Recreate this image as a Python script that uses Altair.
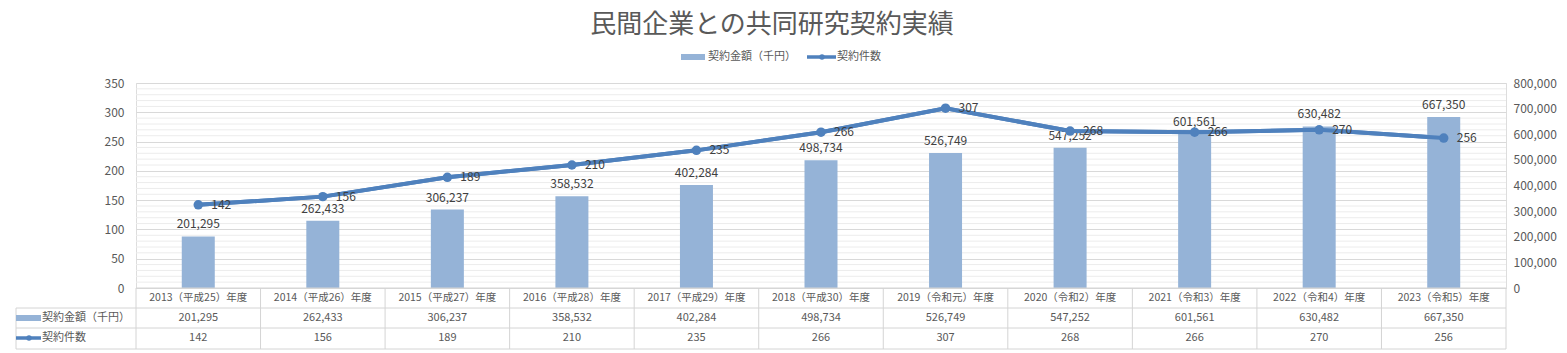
import altair as alt
import pandas as pd

# ---------------- data ----------------
years = ["2013（平成25）年度", "2014（平成26）年度", "2015（平成27）年度", "2016（平成28）年度",
         "2017（平成29）年度", "2018（平成30）年度", "2019（令和元）年度", "2020（令和2）年度",
         "2021（令和3）年度", "2022（令和4）年度", "2023（令和5）年度"]
amounts = [201295, 262433, 306237, 358532, 402284, 498734, 526749, 547252, 601561, 630482, 667350]
counts = [142, 156, 189, 210, 235, 266, 307, 268, 266, 270, 256]
left_ticks = [0, 50, 100, 150, 200, 250, 300, 350]
right_ticks = [0, 100000, 200000, 300000, 400000, 500000, 600000, 700000, 800000]
minor_grid = [v for v in range(10, 350, 10) if v % 50]

title_text = "民間企業との共同研究契約実績"
amount_name = "契約金額（千円）"
count_name = "契約件数"

df = pd.DataFrame({"year": years, "amount": amounts, "count": counts})

# ---------------- styles ----------------
FONT = "Noto Sans CJK JP"
W, H = 1370, 205
BAR = "#95B3D7"
LINE = "#4F81BD"
TXT = "#595959"
LBL = "#404040"
GRIDMAJ = "#d9d9d9"
GRIDMIN = "#ececec"
TABLE = "#d4d4d4"
FS = 11

left_scale = alt.Scale(domain=[0, 350], nice=False, zero=True)
right_scale = alt.Scale(domain=[0, 800000], nice=False, zero=True)
xs = alt.Scale(paddingInner=0, paddingOuter=0)
X = alt.X("year:N", sort=years, axis=None, scale=xs)

base = alt.Chart(df)
one = alt.Data(values=[{"k": 0}])

# minor gridlines
grid_minor = alt.Chart(pd.DataFrame({"v": minor_grid})).mark_rule(color=GRIDMIN, strokeWidth=1).encode(
    y=alt.Y("v:Q", scale=left_scale, axis=None), x=alt.value(0), x2=alt.value(W))

# left axis with major grid (count scale)
left_axis = base.mark_line(color=LINE, strokeWidth=4).encode(
    x=X,
    y=alt.Y("count:Q", scale=left_scale,
            axis=alt.Axis(orient="left", values=left_ticks, grid=True, gridColor=GRIDMAJ, domain=False,
                          ticks=False, labelPadding=12, labelFontSize=12, labelColor=TXT,
                          labelFont=FONT, title=None)))

# bars (right axis)
bars = base.mark_bar(size=33, color=BAR).encode(
    x=X,
    y=alt.Y("amount:Q", scale=right_scale,
            axis=alt.Axis(orient="right", values=right_ticks, grid=False, domain=False,
                          labelExpr="format(datum.value, ',')",
                          ticks=False, labelPadding=7, labelFontSize=12, labelColor=TXT,
                          labelFont=FONT, title=None)))
bar_labels = base.mark_text(baseline="bottom", dy=-5, fontSize=12, color=LBL, font=FONT).encode(
    x=X, y=alt.Y("amount:Q", scale=right_scale, axis=None), text=alt.Text("amount:Q", format=","))

# line (left axis)
line = base.mark_line(color=LINE, strokeWidth=4).encode(
    x=X, y=alt.Y("count:Q", scale=left_scale, axis=None))
points = base.mark_circle(size=90, color=LINE, opacity=1).encode(
    x=X, y=alt.Y("count:Q", scale=left_scale, axis=None))
count_labels = base.mark_text(align="left", dx=13, baseline="middle", fontSize=12, color=LBL, font=FONT).encode(
    x=X, y=alt.Y("count:Q", scale=left_scale, axis=None), text="count:Q")

# ---------------- data table ----------------
def hrule(y, x0, x1):
    return alt.Chart(one).mark_rule(color=TABLE, strokeWidth=1).encode(
        x=alt.value(x0), x2=alt.value(x1), y=alt.value(y))

def vrule_val(x, y0, y1):
    return alt.Chart(one).mark_rule(color=TABLE, strokeWidth=1).encode(
        x=alt.value(x), y=alt.value(y0), y2=alt.value(y1))

vlines = base.mark_rule(color=TABLE, strokeWidth=1).encode(
    x=alt.X("year:N", sort=years, axis=None, scale=xs, bandPosition=0),
    y=alt.value(205), y2=alt.value(266))

cat_text = base.mark_text(fontSize=10.5, color=TXT, font=FONT, baseline="middle").encode(
    x=X, y=alt.value(215), text="year:N")
amt_text = base.mark_text(fontSize=FS, color=TXT, font=FONT, baseline="middle").encode(
    x=X, y=alt.value(235), text=alt.Text("amount:Q", format=","))
cnt_text = base.mark_text(fontSize=FS, color=TXT, font=FONT, baseline="middle").encode(
    x=X, y=alt.value(255), text="count:Q")

row_key_bar = alt.Chart(one).mark_rect(color=BAR).encode(
    x=alt.value(-120), x2=alt.value(-95), y=alt.value(232), y2=alt.value(238))
row_key_line = alt.Chart(one).mark_rule(color=LINE, strokeWidth=3.5).encode(
    x=alt.value(-120), x2=alt.value(-95), y=alt.value(255))
row_key_dot = alt.Chart(one).mark_circle(color=LINE, size=30, opacity=1).encode(
    x=alt.value(-107), y=alt.value(255))
row_lbl1 = alt.Chart(one).mark_text(align="left", baseline="middle", fontSize=FS, color=TXT, font=FONT).encode(
    x=alt.value(-94), y=alt.value(235), text=alt.value(amount_name))
row_lbl2 = alt.Chart(one).mark_text(align="left", baseline="middle", fontSize=FS, color=TXT, font=FONT).encode(
    x=alt.value(-94), y=alt.value(255), text=alt.value(count_name))

# ---------------- legend & title ----------------
leg_bar = alt.Chart(one).mark_rect(color=BAR).encode(
    x=alt.value(545), x2=alt.value(569), y=alt.value(-29), y2=alt.value(-23))
leg_bar_txt = alt.Chart(one).mark_text(align="left", baseline="middle", fontSize=FS, color=TXT, font=FONT).encode(
    x=alt.value(572), y=alt.value(-26), text=alt.value(amount_name))
leg_line = alt.Chart(one).mark_rule(color=LINE, strokeWidth=3.5).encode(
    x=alt.value(671), x2=alt.value(700), y=alt.value(-26))
leg_dot = alt.Chart(one).mark_circle(color=LINE, size=30, opacity=1).encode(
    x=alt.value(686), y=alt.value(-26))
leg_line_txt = alt.Chart(one).mark_text(align="left", baseline="middle", fontSize=FS, color=TXT, font=FONT).encode(
    x=alt.value(701), y=alt.value(-26), text=alt.value(count_name))

title = alt.Chart(one).mark_text(align="center", baseline="middle", fontSize=26, color=TXT, font=FONT).encode(
    x=alt.value(636), y=alt.value(-58), text=alt.value(title_text))

chart = alt.layer(
    grid_minor, left_axis, bars, bar_labels, line, points, count_labels,
    vlines, vrule_val(W, 205, 266), vrule_val(-120, 225, 266),
    hrule(205, 0, W), hrule(225, -120, W), hrule(245, -120, W), hrule(266, -120, W),
    cat_text, amt_text, cnt_text,
    row_key_bar, row_key_line, row_key_dot, row_lbl1, row_lbl2,
    leg_bar, leg_bar_txt, leg_line, leg_dot, leg_line_txt, title,
).resolve_scale(y="independent").properties(
    width=W, height=H,
    autosize=alt.AutoSizeParams(type="none"),
    padding={"left": 136, "top": 83, "right": 61, "bottom": 65},
).configure_view(strokeWidth=0, stroke="transparent").configure(background="white")

chart.save("out.html", embed_options={"renderer": "svg", "actions": False})
